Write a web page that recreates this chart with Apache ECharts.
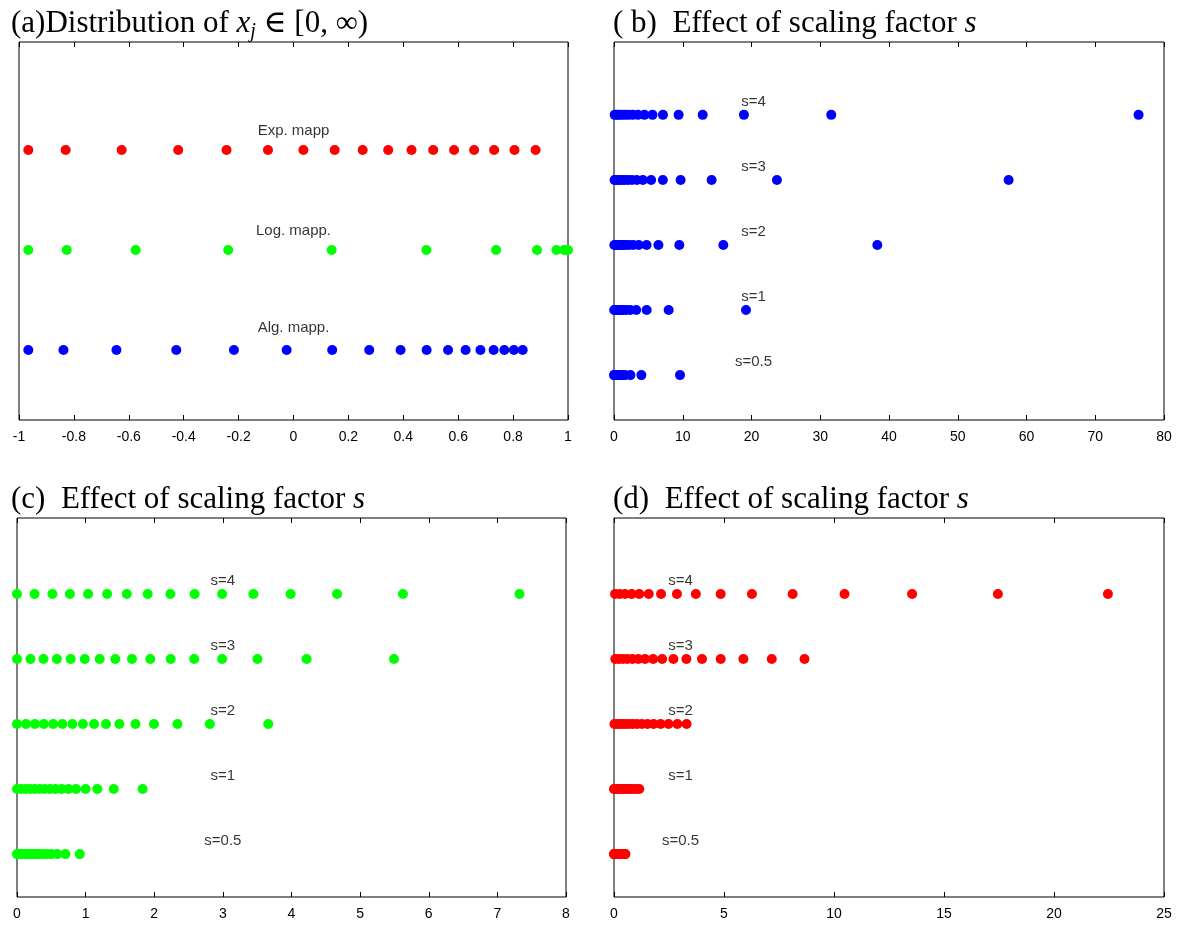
<!DOCTYPE html>
<html><head><meta charset="utf-8">
<script src="https://cdn.jsdelivr.net/npm/echarts@6/dist/echarts.min.js"></script>
<style>html,body{margin:0;padding:0;background:#fff}#c{width:1184px;height:929px}</style>
</head><body><div id="c"></div>
<script>
// ---------- data ----------
// panel (a): mapped points in [-1,1]
const aExp = [-0.966,-0.830,-0.626,-0.420,-0.244,-0.093,0.036,0.150,0.252,0.345,0.430,0.509,0.585,0.658,0.731,0.805,0.882];
const aLog = [-0.966,-0.826,-0.575,-0.238,0.139,0.484,0.738,0.887,0.958,0.986,0.997,1.0];
const aAlg = [-0.966,-0.838,-0.645,-0.427,-0.217,-0.025,0.141,0.276,0.390,0.485,0.563,0.627,0.681,0.729,0.768,0.803,0.835];
const aNames = ['Exp. mapp','Log. mapp.','Alg. mapp.'];

// panel (b): algebraic mapping, blue
const b_s4  = [76.3,31.6,18.9,12.9,9.4,7.12,5.6,4.42,3.48,2.72,2.11,1.6,1.13,0.73,0.4,0.1];
const b_s3  = [57.4,23.7,14.2,9.69,7.11,5.4,4.2,3.32,2.61,2.04,1.58,1.2,0.85,0.55,0.3,0.08];
const b_s2  = [38.3,15.9,9.5,6.46,4.74,3.6,2.8,2.21,1.74,1.36,1.05,0.8,0.56,0.37,0.2,0.05];
const b_s1  = [19.2,7.95,4.75,3.23,2.37,1.8,1.4,1.1,0.87,0.68,0.53,0.4,0.28,0.18,0.1,0.03];
const b_s05 = [9.6,3.98,2.38,1.62,1.19,0.9,0.7,0.55,0.43,0.34,0.26,0.2,0.14,0.09,0.05,0.01];

// panel (c): logarithmic mapping, green
const c_s4  = [0,0.256,0.516,0.771,1.036,1.313,1.600,1.904,2.235,2.588,2.989,3.444,3.987,4.664,5.624,7.322];
const c_s3  = [0,0.196,0.386,0.581,0.782,0.988,1.205,1.432,1.676,1.942,2.240,2.582,2.989,3.504,4.220,5.494];
const c_s2  = [0,0.131,0.261,0.391,0.527,0.662,0.808,0.960,1.123,1.297,1.492,1.726,1.996,2.338,2.810,3.661];
const c_s1  = [0,0.065,0.129,0.194,0.26,0.33,0.40,0.48,0.56,0.65,0.75,0.86,1.0,1.17,1.41,1.83];
const c_s05 = [0,0.032,0.065,0.097,0.13,0.165,0.2,0.24,0.28,0.325,0.375,0.43,0.5,0.585,0.705,0.915];

// panel (d): exponential mapping, red
const d_s4  = [22.45,17.45,13.55,10.48,8.12,6.27,4.85,3.72,2.86,2.14,1.58,1.15,0.8,0.5,0.26,0.05];
const d_s3  = [8.66,7.17,5.88,4.85,4.0,3.29,2.70,2.19,1.78,1.41,1.10,0.83,0.60,0.40,0.22,0.06];
const d_s2  = [3.30,2.88,2.48,2.12,1.80,1.52,1.27,1.05,0.86,0.69,0.54,0.41,0.29,0.18,0.09,0.02];
const d_s1  = [1.15,1.0,0.87,0.75,0.64,0.54,0.45,0.37,0.30,0.24,0.18,0.13,0.09,0.05,0.02,0.0];
const d_s05 = [0.52,0.46,0.40,0.35,0.30,0.26,0.22,0.18,0.15,0.12,0.09,0.065,0.045,0.025,0.01,0.0];

const sNames = ['s=4','s=3','s=2','s=1','s=0.5'];

// tick labels
const ticksA = ['-1','-0.8','-0.6','-0.4','-0.2','0','0.2','0.4','0.6','0.8','1'];
const ticksB = ['0','10','20','30','40','50','60','70','80'];
const ticksC = ['0','1','2','3','4','5','6','7','8'];
const ticksD = ['0','5','10','15','20','25'];

// ---------- chart ----------
const RED='#ff0000', GREEN='#00ff00', BLUE='#0000ff';
const tickFont = {fontFamily:'Liberation Sans Narrow, Liberation Sans, Arial', fontSize:14, color:'#000'};
const grids = [
  {left:19, top:42, width:549, height:378},
  {left:614, top:42, width:550, height:378},
  {left:17, top:518, width:549, height:379},
  {left:614, top:518, width:550, height:379}
];
grids.forEach(g=>{g.show=true;g.borderColor='#000';g.borderWidth=1;g.backgroundColor='transparent';});

function xAxisPair(gi, min, max, interval, labels){
  return [
    {type:'value', gridIndex:gi, position:'bottom', min:min, max:max, interval:interval,
     axisLine:{show:false}, splitLine:{show:false},
     axisTick:{show:true, inside:true, length:5, lineStyle:{color:'#000'}},
     axisLabel:{show:true, margin:10, ...tickFont,
       formatter:(v)=>{const i=Math.round((v-min)/interval);return labels[i]!==undefined?labels[i]:'';}}},
    {type:'value', gridIndex:gi, position:'top', min:min, max:max, interval:interval,
     axisLine:{show:false}, splitLine:{show:false},
     axisTick:{show:true, inside:true, length:5, lineStyle:{color:'#000'}},
     axisLabel:{show:false}}
  ];
}
const xAxes = [].concat(
  xAxisPair(0,-1,1,0.2,ticksA),
  xAxisPair(1,0,80,10,ticksB),
  xAxisPair(2,0,8,1,ticksC),
  xAxisPair(3,0,25,5,ticksD)
);
function yAx(gi,min,max){
  return {type:'value', gridIndex:gi, min:min, max:max, show:true,
    axisLine:{show:false}, axisTick:{show:false}, axisLabel:{show:false}, splitLine:{show:false}};
}
const yAxes = [yAx(0,0.3,4.08), yAx(1,0.31,6.12), yAx(2,0.34,6.17), yAx(3,0.34,6.17)];

const series = [];
function dots(vals, y, color, gi){
  series.push({type:'scatter', xAxisIndex:gi*2, yAxisIndex:gi, symbol:'circle', symbolSize:10,
    itemStyle:{color:color, opacity:1}, silent:true, animation:false,
    data: vals.map(v=>[v,y])});
}
function labels(items, gi){
  series.push({type:'scatter', xAxisIndex:gi*2, yAxisIndex:gi, symbolSize:0, silent:true, animation:false,
    data: items,
    label:{show:true, position:'inside', formatter:(p)=>p.data[2], color:'#000',
      fontFamily:'Liberation Sans, Arial', fontSize:15}});
}
// panel a
dots(aExp,3,RED,0); dots(aLog,2,GREEN,0); dots(aAlg,1,BLUE,0);
labels([[0,3.19,aNames[0]],[0,2.19,aNames[1]],[0,1.22,aNames[2]]],0);
// panel b
[b_s4,b_s3,b_s2,b_s1,b_s05].forEach((arr,i)=>dots(arr,5-i,BLUE,1));
labels(sNames.map((n,i)=>[20.3,5-i+0.2,n]),1);
// panel c
[c_s4,c_s3,c_s2,c_s1,c_s05].forEach((arr,i)=>dots(arr,5-i,GREEN,2));
labels(sNames.map((n,i)=>[3.0,5-i+0.2,n]),2);
// panel d
[d_s4,d_s3,d_s2,d_s1,d_s05].forEach((arr,i)=>dots(arr,5-i,RED,3));
labels(sNames.map((n,i)=>[3.02,5-i+0.2,n]),3);

const serif = 'Liberation Serif, DejaVu Serif, serif';
const base = {fontFamily:serif, fontWeight:'normal', color:'#000'};
const rich = {
  n:{...base, fontSize:31, lineHeight:36},
  i:{...base, fontSize:31, fontStyle:'italic', lineHeight:36},
  sub:{...base, fontSize:20, fontStyle:'italic', lineHeight:17, verticalAlign:'bottom'}
};
const titles = [
  {text:'{n|(a)Distribution of }{i|x}{sub|j}{n| ∈ [0, ∞)}', left:6, top:1},
  {text:'{n|( b)  Effect of scaling factor }{i|s}', left:608, top:1},
  {text:'{n|(c)  Effect of scaling factor }{i|s}', left:6, top:477},
  {text:'{n|(d)  Effect of scaling factor }{i|s}', left:608, top:477}
].map(t=>({...t, textStyle:{fontWeight:'normal', rich:rich}}));

const chart = echarts.init(document.getElementById('c'), null, {renderer:'canvas'});
chart.setOption({
  animation:false,
  backgroundColor:'#fff',
  title:titles,
  grid:grids,
  xAxis:xAxes,
  yAxis:yAxes,
  series:series
});
</script></body></html>
